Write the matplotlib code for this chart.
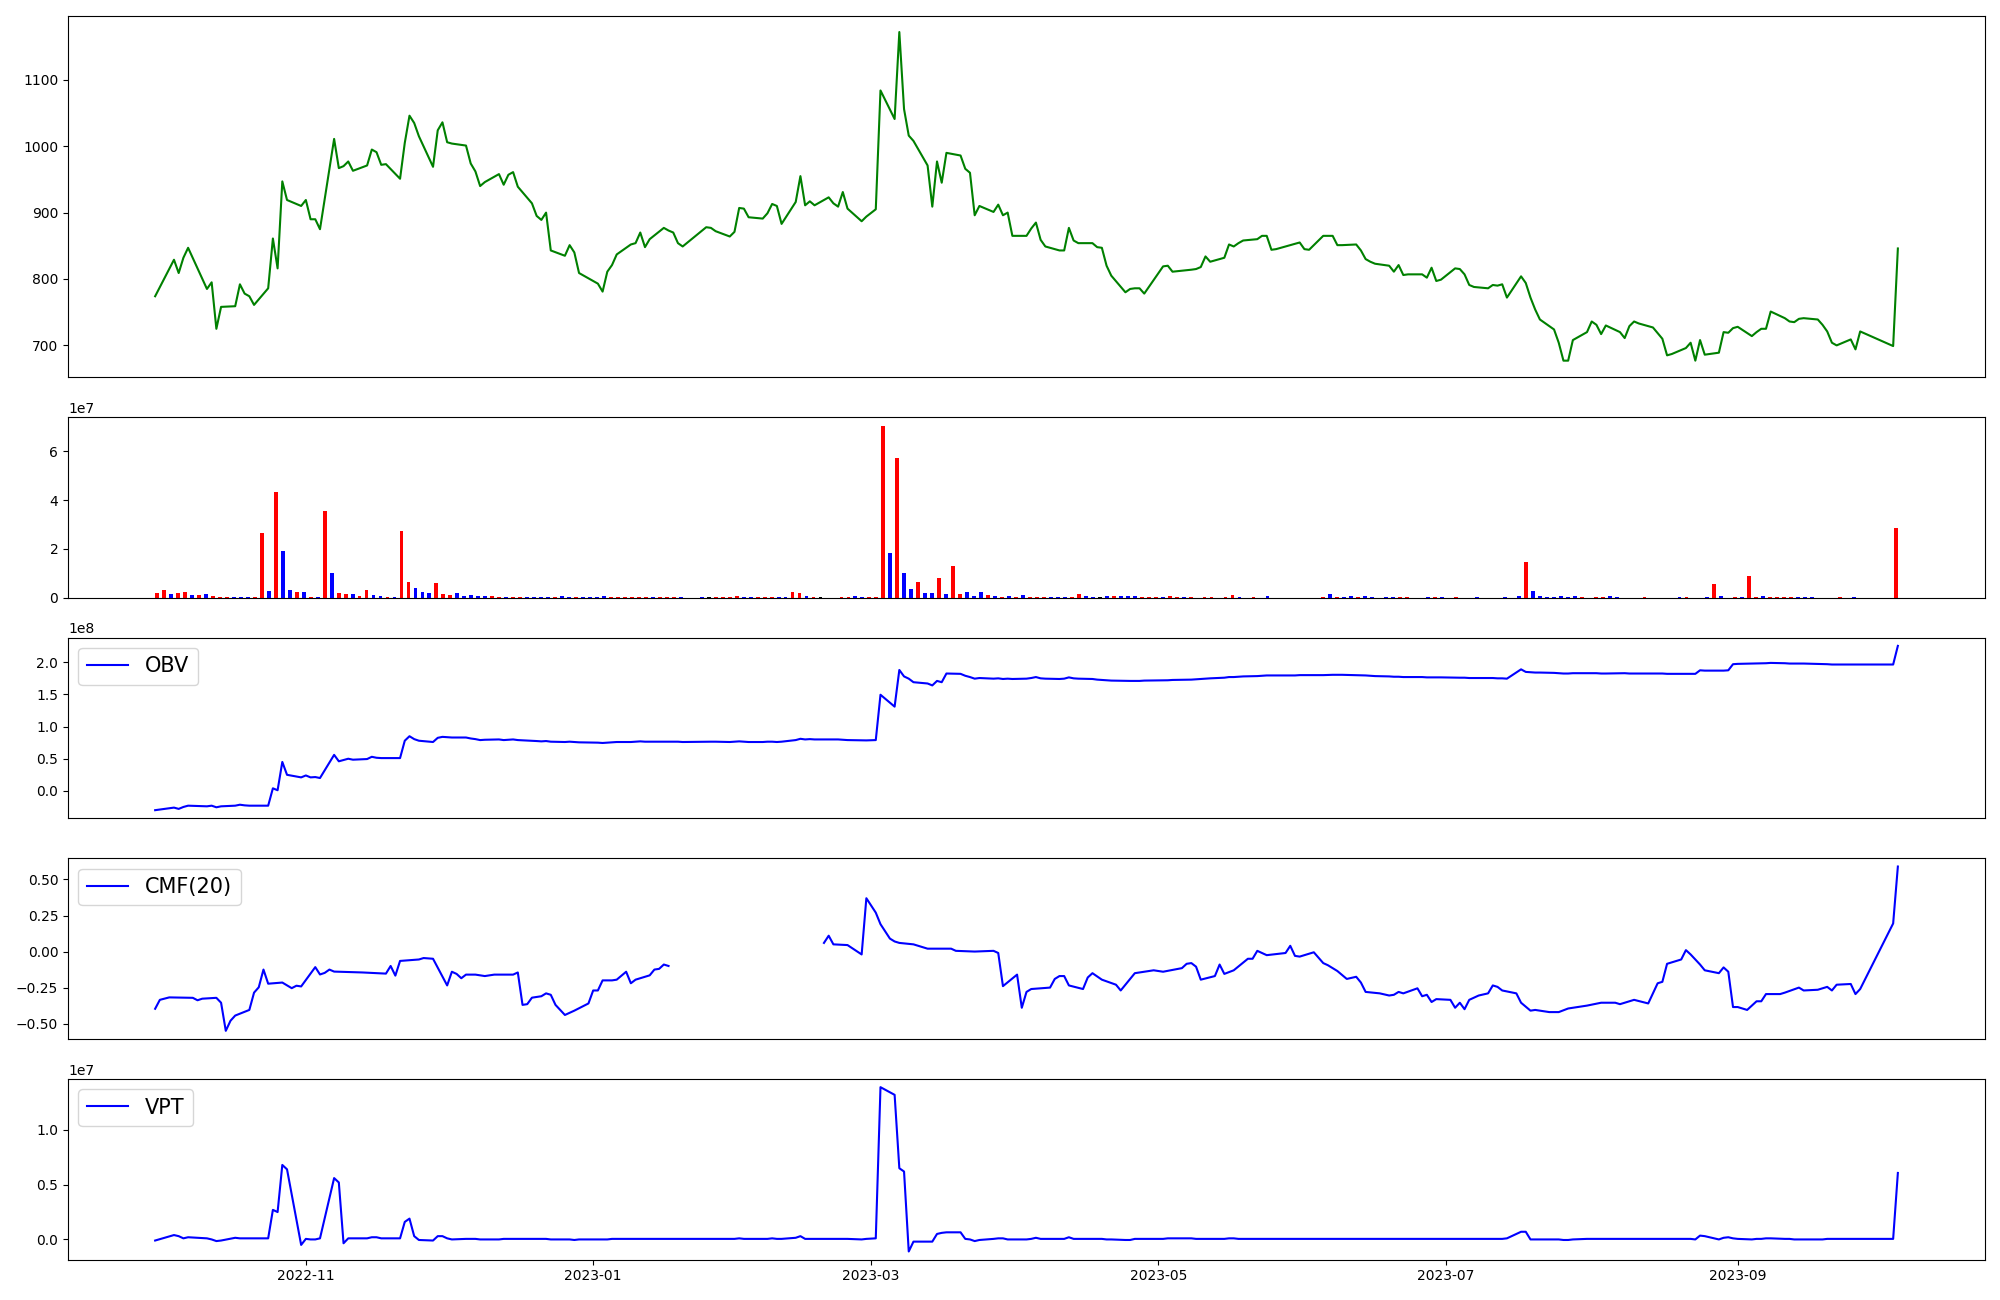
import numpy as np
import pandas as pd
import matplotlib
matplotlib.use('Agg')
import matplotlib.pyplot as plt

# KRX trading calendar for the period shown
krx_holidays = ['2022-10-03', '2022-10-10', '2022-12-30', '2023-01-23', '2023-01-24',
                '2023-03-01', '2023-05-01', '2023-05-05', '2023-05-29', '2023-06-06',
                '2023-08-15', '2023-09-28', '2023-09-29', '2023-10-02', '2023-10-03']
dates = pd.bdate_range('2022-09-30', '2023-10-05', freq='C', holidays=krx_holidays)

# closing price, one value per trading day (grouped by month)
close = [
    774, 829, 809, 832, 847, 785, 795, 725, 758, 759, 792, 778, 774, 761, 786, 861, 816, 947, 919, 910,
    919, 890, 890, 875, 1011, 967, 970, 977, 963, 971, 995, 991, 972, 973, 951, 1005, 1046, 1035, 1015, 969, 1024, 1036,
    1006, 1004, 1001, 974, 962, 940, 946, 958, 942, 957, 961, 939, 914, 895, 889, 900, 843, 835, 851, 840, 809,
    793, 781, 811, 821, 837, 852, 854, 870, 848, 860, 877, 873, 870, 854, 849, 878, 877, 872, 864, 871,
    907, 906, 893, 891, 899, 913, 910, 883, 916, 955, 911, 917, 911, 923, 914, 909, 931, 906, 887, 894,
    905, 1084, 1041, 1172, 1056, 1016, 1008, 971, 909, 977, 945, 990, 986, 966, 960, 896, 910, 901, 912, 896, 900, 865,
    865, 876, 885, 859, 849, 843, 843, 877, 858, 854, 854, 848, 847, 820, 805, 780, 785, 786, 786, 778,
    819, 820, 811, 814, 815, 818, 834, 826, 832, 852, 849, 854, 858, 860, 865, 865, 844, 845, 853, 855,
    845, 844, 865, 865, 851, 851, 852, 843, 830, 826, 823, 820, 811, 821, 806, 807, 807, 802, 817, 797, 799,
    816, 815, 807, 791, 788, 786, 791, 790, 792, 772, 804, 794, 772, 754, 739, 724, 704, 677, 677, 708, 720,
    736, 731, 717, 730, 720, 711, 729, 736, 733, 727, 710, 685, 687, 696, 704, 677, 708, 686, 689, 720, 719, 726,
    728, 714, 720, 725, 725, 751, 741, 736, 735, 740, 741, 739, 731, 721, 704, 700, 709, 694, 721,
    699, 846,
]

# daily volume in millions of shares
volume_m = [
    1.9, 3.3, 1.5, 1.9, 2.3, 1.1, 1.1, 1.5, 0.7, 0.3,
    0.3, 0.3, 0.1, 0.1, 0.3, 26.5, 2.9, 43.3, 19.2, 3.3,
    2.4, 2.4, 0.3, 0.3, 35.5, 10.2, 1.9, 1.6, 1.6, 0.8,
    3.3, 1.2, 0.8, 0.3, 0.3, 27.5, 6.5, 4.0, 2.3, 1.9,
    6.1, 1.5, 1.1, 1.9, 0.7, 1.1, 0.7, 0.7, 0.7, 0.3,
    0.3, 0.3, 0.3, 0.3, 0.3, 0.3, 0.3, 0.1, 0.7, 0.3,
    0.3, 0.3, 0.3, 0.3, 0.7, 0.3, 0.3, 0.1, 0.1, 0.3,
    0.1, 0.3, 0.3, 0.3, 0.1, 0.1, 0.05, 0.05, 0.1, 0.3,
    0.1, 0.1, 0.3, 0.7, 0.3, 0.3, 0.1, 0.3, 0.3, 0.3,
    0.3, 2.4, 2.0, 0.7, 0.3, 0.3, 0.05, 0.05, 0.3, 0.3,
    0.7, 0.3, 0.1, 0.3, 70.5, 18.5, 57.3, 10.0, 3.7, 6.6,
    2.0, 2.0, 7.9, 1.6, 13.2, 1.6, 2.4, 0.8, 2.4, 1.2,
    0.8, 0.3, 0.7, 0.5, 1.2, 0.5, 0.3, 0.3, 0.5, 0.3,
    0.3, 0.3, 1.6, 0.6, 0.3, 0.3, 0.6, 0.6, 0.6, 0.6,
    0.6, 0.3, 0.3, 0.3, 0.3, 0.6, 0.3, 0.3, 0.3, 0.05,
    0.3, 0.3, 0.05, 0.3, 1.2, 0.3, 0.05, 0.3, 0.05, 0.6,
    0.05, 0.05, 0.05, 0.05, 0.05, 0.05, 0.05, 0.3, 1.6, 0.3,
    0.3, 0.6, 0.3, 0.6, 0.3, 0.05, 0.3, 0.3, 0.3, 0.3,
    0.05, 0.05, 0.3, 0.3, 0.3, 0.05, 0.3, 0.05, 0.05, 0.3,
    0.05, 0.05, 0.05, 0.3, 0.05, 0.6, 14.8, 2.8, 0.6, 0.3,
    0.3, 0.6, 0.3, 0.6, 0.3, 0.05, 0.3, 0.3, 0.6, 0.3,
    0.05, 0.05, 0.05, 0.3, 0.05, 0.05, 0.05, 0.05, 0.3, 0.3,
    0.05, 0.05, 0.3, 5.8, 0.6, 0.05, 0.5, 0.3, 9.0, 0.5,
    0.6, 0.3, 0.3, 0.3, 0.5, 0.3, 0.3, 0.3, 0.05, 0.05,
    0.05, 0.3, 0.05, 0.3, 0.05, 0.05, 0.05, 0.05, 0.05, 28.7,
]

# candle direction of each day: 1 up, -1 down, 0 unchanged
candle_dir = [
    1, 1, -1, 1, 1, -1, 1, -1, 1, 1,
    1, -1, -1, -1, 1, 1, -1, 1, -1, -1,
    1, -1, 1, -1, 1, -1, 1, 1, -1, 1,
    1, -1, -1, 1, -1, 1, 1, -1, -1, -1,
    1, 1, 1, -1, -1, -1, -1, -1, 1, 1,
    -1, 1, 1, -1, -1, -1, -1, 1, -1, -1,
    1, -1, -1, -1, -1, 1, 1, 1, 1, 1,
    1, -1, 1, 1, 1, -1, -1, 1, -1, 0,
    1, 1, 1, 1, -1, -1, 1, 1, 1, -1,
    -1, 1, 1, -1, 1, 0, 1, -1, 1, 1,
    -1, -1, 1, 1, 1, -1, 1, -1, -1, 1,
    -1, -1, 1, -1, 1, 1, -1, -1, -1, 1,
    -1, 1, -1, 1, -1, 1, 1, 1, -1, -1,
    -1, 1, 1, -1, -1, 0, -1, 1, -1, -1,
    -1, 1, 1, 1, -1, 1, 1, -1, 1, 1,
    1, 1, -1, 1, 1, -1, 1, 1, -1, -1,
    1, -1, 1, -1, 1, -1, 1, 1, -1, 1,
    -1, -1, 1, -1, -1, 1, -1, -1, 1, 1,
    -1, 1, -1, 1, -1, 1, 1, -1, 1, -1,
    -1, 1, -1, -1, 1, -1, 1, -1, -1, -1,
    -1, -1, -1, -1, 1, 1, 1, 1, -1, -1,
    1, -1, 1, 1, -1, 1, -1, 1, -1, 1,
    -1, 1, -1, 1, -1, 1, 1, -1, 1, 1,
    -1, 1, 1, 1, 1, -1, -1, -1, 1, -1,
    1, 1, -1, -1, 1, -1, 1, -1, -1, 1,
]

# On-Balance Volume, units of 1e8
obv = [
    -0.30, -0.26, -0.28, -0.25, -0.23, -0.24, -0.23, -0.255, -0.24, -0.23, -0.215, -0.225, -0.23, -0.23, -0.23, 0.04, 0.01, 0.45, 0.25, 0.21,
    0.24, 0.21, 0.215, 0.20, 0.56, 0.46, 0.48, 0.50, 0.485, 0.495, 0.53, 0.515, 0.51, 0.51, 0.51, 0.78, 0.85, 0.805, 0.78, 0.76, 0.825, 0.84,
    0.835, 0.83, 0.83, 0.815, 0.805, 0.79, 0.795, 0.80, 0.79, 0.795, 0.80, 0.79, 0.78, 0.775, 0.77, 0.775, 0.765, 0.76, 0.765, 0.76, 0.755,
    0.75, 0.745, 0.75, 0.755, 0.76, 0.76, 0.765, 0.77, 0.765, 0.765, 0.765, 0.765, 0.765, 0.765, 0.76, 0.765, 0.765, 0.765, 0.76, 0.765,
    0.77, 0.765, 0.76, 0.76, 0.765, 0.765, 0.76, 0.765, 0.79, 0.81, 0.80, 0.805, 0.80, 0.80, 0.80, 0.80, 0.795, 0.79, 0.785, 0.785,
    0.79, 1.495, 1.31, 1.88, 1.78, 1.745, 1.69, 1.67, 1.64, 1.71, 1.69, 1.825, 1.82, 1.79, 1.77, 1.745, 1.755, 1.745, 1.75, 1.74, 1.745, 1.74,
    1.745, 1.755, 1.77, 1.75, 1.745, 1.74, 1.745, 1.765, 1.75, 1.745, 1.74, 1.73, 1.725, 1.72, 1.715, 1.71, 1.71, 1.71, 1.71, 1.715,
    1.72, 1.72, 1.725, 1.73, 1.735, 1.74, 1.745, 1.75, 1.76, 1.77, 1.77, 1.775, 1.78, 1.785, 1.79, 1.795, 1.795, 1.795, 1.795, 1.80,
    1.80, 1.80, 1.80, 1.805, 1.805, 1.805, 1.80, 1.80, 1.795, 1.79, 1.785, 1.78, 1.775, 1.775, 1.77, 1.77, 1.77, 1.765, 1.765, 1.765, 1.765,
    1.76, 1.76, 1.76, 1.755, 1.755, 1.755, 1.755, 1.75, 1.75, 1.745, 1.89, 1.85, 1.845, 1.84, 1.84, 1.835, 1.83, 1.825, 1.825, 1.83, 1.83,
    1.83, 1.83, 1.825, 1.825, 1.83, 1.83, 1.825, 1.825, 1.825, 1.825, 1.825, 1.82, 1.82, 1.82, 1.82, 1.82, 1.875, 1.87, 1.87, 1.87, 1.875, 1.97,
    1.975, 1.98, 1.98, 1.985, 1.985, 1.99, 1.985, 1.98, 1.98, 1.98, 1.98, 1.975, 1.975, 1.97, 1.965, 1.965, 1.965, 1.965, 1.965,
    1.965, 2.255,
]

# Volume Price Trend, units of 1e7
vpt = [
    -0.01, 0.04, 0.03, 0.01, 0.02, 0.01, 0.0, -0.015, -0.01, 0.015, 0.01, 0.01, 0.01, 0.01, 0.01, 0.27, 0.25, 0.68, 0.64, -0.05,
    0.005, 0.0, 0.0, 0.01, 0.56, 0.52, -0.035, 0.01, 0.01, 0.01, 0.02, 0.02, 0.01, 0.01, 0.01, 0.16, 0.19, 0.03, -0.005, -0.01, 0.03, 0.03,
    0.01, 0.0, 0.005, 0.005, 0.005, 0.0, 0.0, 0.0, 0.005, 0.005, 0.005, 0.005, 0.005, 0.005, 0.005, 0.005, 0.0, 0.0, 0.0, -0.005, 0.0,
    0.0, 0.0, 0.0, 0.005, 0.005, 0.005, 0.005, 0.005, 0.005, 0.005, 0.005, 0.005, 0.005, 0.005, 0.005, 0.005, 0.005, 0.005, 0.005, 0.005,
    0.01, 0.005, 0.005, 0.005, 0.005, 0.01, 0.005, 0.005, 0.015, 0.03, 0.005, 0.005, 0.005, 0.005, 0.005, 0.005, 0.005, 0.005, 0.0, 0.005,
    0.01, 1.39, 1.32, 0.65, 0.62, -0.11, -0.02, -0.02, -0.02, 0.05, 0.06, 0.065, 0.065, 0.005, 0.0, -0.015, -0.005, 0.005, 0.01, 0.01, 0.0, 0.0,
    0.0, 0.005, 0.015, 0.005, 0.005, 0.005, 0.005, 0.02, 0.005, 0.005, 0.005, 0.005, 0.005, 0.0, 0.0, -0.005, -0.005, 0.005, 0.005, 0.005,
    0.005, 0.01, 0.01, 0.01, 0.005, 0.005, 0.005, 0.005, 0.005, 0.01, 0.01, 0.005, 0.005, 0.005, 0.005, 0.005, 0.005, 0.005, 0.005, 0.005,
    0.005, 0.005, 0.005, 0.005, 0.005, 0.005, 0.005, 0.005, 0.005, 0.005, 0.005, 0.005, 0.005, 0.005, 0.005, 0.005, 0.005, 0.005, 0.005, 0.005, 0.005,
    0.005, 0.005, 0.005, 0.005, 0.005, 0.005, 0.005, 0.005, 0.005, 0.01, 0.07, 0.07, 0.0, 0.0, 0.0, 0.0, 0.0, -0.005, -0.005, 0.0, 0.005,
    0.005, 0.005, 0.005, 0.005, 0.005, 0.005, 0.005, 0.005, 0.005, 0.005, 0.005, 0.005, 0.005, 0.005, 0.005, 0.0, 0.035, 0.03, 0.0, 0.015, 0.02, 0.01,
    0.005, 0.0, 0.005, 0.005, 0.01, 0.01, 0.005, 0.005, 0.0, 0.0, 0.0, 0.0, 0.0, 0.005, 0.005, 0.005, 0.005, 0.005, 0.005,
    0.005, 0.607,
]

# Chaikin Money Flow(20): (days after 2022-09-30, value); the gap is missing data
cmf_points = [
    (0, -0.397), (1, -0.335), (3, -0.318), (8, -0.321), (9, -0.338), (10, -0.327), (13, -0.321), (14, -0.355),
    (15, -0.55), (16, -0.48), (17, -0.444), (20, -0.405), (21, -0.285), (22, -0.248), (23, -0.125), (24, -0.223),
    (27, -0.215), (29, -0.254), (30, -0.237), (31, -0.242), (34, -0.108), (35, -0.159), (36, -0.148), (37, -0.125),
    (38, -0.139), (44, -0.145), (49, -0.153), (50, -0.10), (51, -0.167), (52, -0.065), (54, -0.06), (56, -0.055),
    (57, -0.045), (59, -0.05), (62, -0.235), (63, -0.14), (64, -0.155), (65, -0.185), (66, -0.16), (68, -0.16),
    (70, -0.17), (72, -0.16), (76, -0.16), (77, -0.145), (78, -0.37), (79, -0.365), (80, -0.32), (82, -0.31),
    (83, -0.29), (84, -0.30), (85, -0.37), (87, -0.44), (89, -0.41), (92, -0.36), (93, -0.27), (94, -0.27),
    (95, -0.20), (97, -0.20), (98, -0.195), (100, -0.14), (101, -0.22), (102, -0.195), (105, -0.165), (106, -0.125),
    (107, -0.12), (108, -0.09), (109, -0.10), (125, np.nan),
    (142, 0.06), (143, 0.11), (144, 0.05), (147, 0.045), (150, -0.02), (151, 0.37), (153, 0.27), (154, 0.19),
    (155, 0.14), (156, 0.09), (157, 0.07), (158, 0.06), (161, 0.05), (164, 0.02), (166, 0.02), (169, 0.02),
    (170, 0.005), (174, 0.0), (178, 0.005), (179, -0.01), (180, -0.24), (183, -0.16), (184, -0.39), (185, -0.28),
    (186, -0.26), (190, -0.25), (191, -0.19), (192, -0.17), (193, -0.17), (194, -0.235), (197, -0.26), (198, -0.18),
    (199, -0.15), (201, -0.195), (204, -0.23), (205, -0.27), (208, -0.15), (212, -0.13), (214, -0.14), (218, -0.115),
    (219, -0.085), (220, -0.08), (221, -0.105), (222, -0.195), (225, -0.17), (226, -0.09), (227, -0.155), (229, -0.13),
    (232, -0.05), (233, -0.05), (234, 0.005), (236, -0.025), (240, -0.01), (241, 0.04), (242, -0.03), (243, -0.035),
    (246, -0.005), (248, -0.08), (249, -0.095), (251, -0.135), (253, -0.19), (255, -0.175), (256, -0.215), (257, -0.28),
    (260, -0.29), (262, -0.305), (263, -0.30), (264, -0.28), (265, -0.29), (268, -0.255), (269, -0.31), (270, -0.30),
    (271, -0.35), (272, -0.33), (275, -0.335), (276, -0.39), (277, -0.355), (278, -0.40), (279, -0.335), (281, -0.305),
    (283, -0.29), (284, -0.235), (285, -0.245), (286, -0.27), (289, -0.29), (290, -0.355), (292, -0.41), (293, -0.405),
    (295, -0.415), (296, -0.42), (298, -0.42), (300, -0.395), (302, -0.385), (304, -0.375), (307, -0.355), (310, -0.355),
    (311, -0.365), (314, -0.335), (317, -0.36), (319, -0.22), (320, -0.21), (321, -0.085), (324, -0.055), (325, 0.01),
    (326, -0.02), (328, -0.09), (329, -0.13), (332, -0.15), (333, -0.11), (334, -0.14), (335, -0.385), (336, -0.385),
    (338, -0.405), (340, -0.345), (341, -0.345), (342, -0.295), (345, -0.295), (346, -0.285), (349, -0.25), (350, -0.27),
    (353, -0.265), (355, -0.245), (356, -0.27), (357, -0.23), (360, -0.225), (361, -0.295), (362, -0.26), (369, 0.195),
    (370, 0.59),
]

n = len(dates)
assert len(close) == n and len(volume_m) == n and len(candle_dir) == n, (n, len(close), len(volume_m), len(candle_dir))
assert len(obv) == n and len(vpt) == n, (len(obv), len(vpt))

cmf_dates = pd.Timestamp('2022-09-30') + pd.to_timedelta([p[0] for p in cmf_points], unit='D')
cmf_vals = [p[1] for p in cmf_points]

bar_colors = ['red' if d > 0 else ('blue' if d < 0 else 'black') for d in candle_dir]

fig = plt.figure(figsize=(20, 13), dpi=100)
gs = fig.add_gridspec(5, 1, height_ratios=[2, 1, 1, 1, 1], left=0.034, right=0.9925,
                      top=0.988, bottom=0.031, hspace=0.184)
ax_price = fig.add_subplot(gs[0])
ax_vol = fig.add_subplot(gs[1])
ax_obv = fig.add_subplot(gs[2])
ax_cmf = fig.add_subplot(gs[3])
ax_vpt = fig.add_subplot(gs[4])

ax_price.plot(dates, close, color='green')

# volume bars are drawn on a plain day index
ax_vol.bar(np.arange(n), np.array(volume_m) * 1e6, width=0.55, color=bar_colors)

ax_obv.plot(dates, np.array(obv) * 1e8, color='blue', label='OBV')
ax_cmf.plot(cmf_dates, cmf_vals, color='blue', label='CMF(20)')
ax_vpt.plot(dates, np.array(vpt) * 1e7, color='blue', label='VPT')

for ax in (ax_obv, ax_cmf, ax_vpt):
    ax.legend(loc='upper left', fontsize=15)

for ax in (ax_price, ax_vol, ax_obv, ax_cmf):
    ax.set_xticks([])

fig.savefig('out.png', dpi=100)
